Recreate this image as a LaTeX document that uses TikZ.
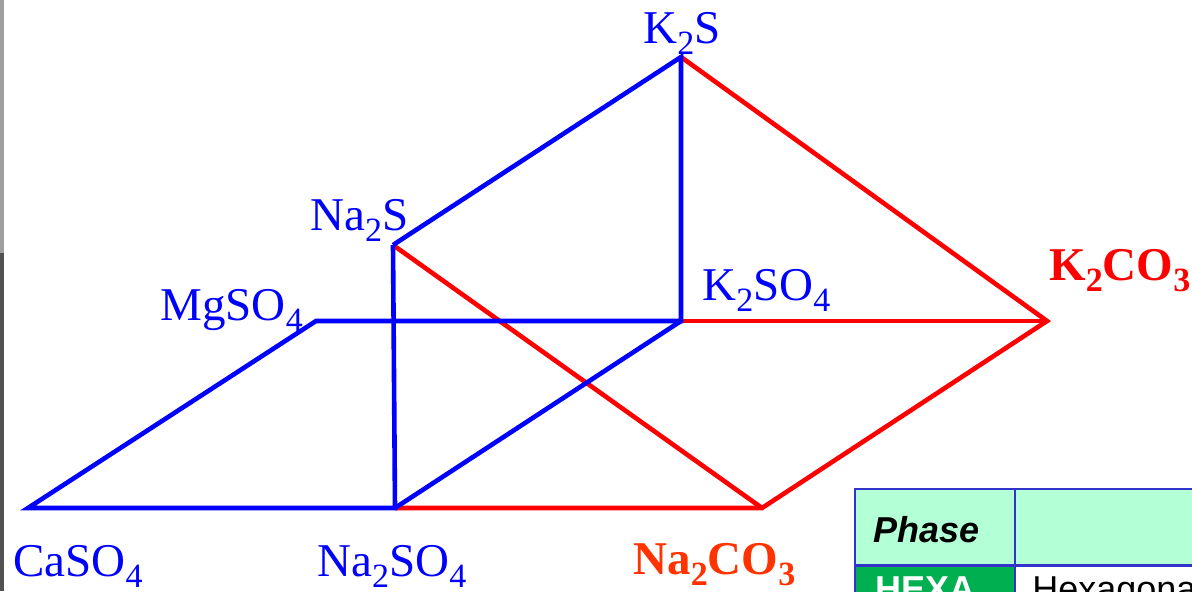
\documentclass[tikz,border=0pt]{standalone}
\usepackage{fontspec}
\setmainfont{Liberation Serif}
\setsansfont{Liberation Sans}
\usetikzlibrary{positioning}
\definecolor{naorange}{RGB}{255,51,0}
\definecolor{tabblue}{RGB}{51,51,204}
\definecolor{headgreen}{RGB}{179,255,214}
\definecolor{hexagreen}{RGB}{0,176,80}
\newcommand{\subn}[1]{\raisebox{-5.5pt}[\height][0pt]{\fontsize{17}{17}\selectfont #1}}

\begin{document}
\begin{tikzpicture}[
  x=0.5pt,y=0.5pt,
  lbl/.style={anchor=base west,inner sep=0pt,text=blue,font=\fontsize{23.5}{26}\selectfont},
  bold lbl/.style={lbl,font=\fontsize{23.5}{26}\selectfont\bfseries},
  bline/.style={blue,line width=2.3pt},
  rline/.style={red,line width=2.3pt},
  cell/.style={draw=tabblue,line width=1pt}
]
\useasboundingbox (0,0) rectangle (1192,591);
\clip (0,0) rectangle (1192,591);

% edge of the slide
\fill[gray!75] (0,338) rectangle (4,591);
\fill[black!68] (0,0) rectangle (4,338);

% corners of the prism
\coordinate (ks) at (681,534);
\coordinate (nas) at (393,346);
\coordinate (mg) at (316,270);
\coordinate (kso) at (681,270);
\coordinate (kco) at (1047,270);
\coordinate (ca) at (28,83);
\coordinate (naso) at (395,83);
\coordinate (naco) at (762,83);

\draw[rline] (ks) -- (kco) -- (naco) -- (naso);
\draw[rline] (kso) -- (kco);
\draw[rline] (nas) -- (naco);

\draw[bline] (nas) -- (ks) -- (kso) -- (mg) -- (ca) -- (naso) -- (nas);
\draw[bline] (naso) -- (kso);

\node[lbl] (lks) at (643,548) {K\subn{2}S};
\node[lbl] (lnas) at (310,361) {Na\subn{2}S};
\node[lbl] (lmg) at (160,271) {MgSO\subn{4}};
\node[lbl] (lkso) at (702,291) {K\subn{2}SO\subn{4}};
\node[bold lbl,text=red] (lkco) at (1049,311) {K\subn{2}CO\subn{3}};
\node[lbl] (lca) at (13,15) {CaSO\subn{4}};
\node[lbl] (lnaso) at (317,15) {Na\subn{2}SO\subn{4}};
\node[bold lbl,text=naorange] (lnaco) at (633,17) {Na\subn{2}CO\subn{3}};

% table in the corner
\fill[headgreen] (855,26) rectangle (1200,102);
\fill[hexagreen] (855,-40) rectangle (1015,24);
\draw[cell] (855,26) rectangle (1015,102);
\draw[cell] (1015,26) rectangle (1200,102);
\draw[cell] (855,-40) rectangle (1015,25);
\draw[cell] (1015,-40) rectangle (1200,25);
\node[anchor=base west,inner sep=0pt,font=\sffamily\bfseries\itshape\fontsize{18}{20}\selectfont] (phase) at (873,49) {Phase};
\node[anchor=base west,inner sep=0pt,text=white,font=\sffamily\bfseries\fontsize{18}{20}\selectfont] (hexa) at (875,-10) {HEXA};
\node[anchor=base west,inner sep=0pt,font=\sffamily\fontsize{18}{20}\selectfont] (hexname) at (1032,-10) {Hexagonal};
\end{tikzpicture}
\end{document}
